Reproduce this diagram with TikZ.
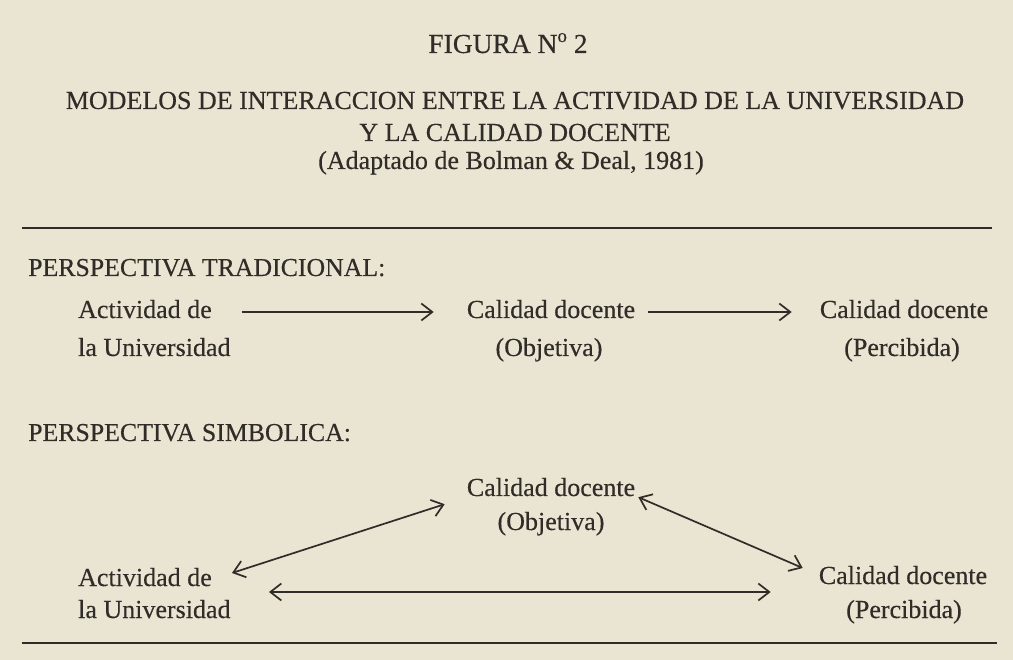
\documentclass[tikz,border=0pt]{standalone}
\usepackage{fontspec}
\setmainfont[FakeBold=0.35]{Liberation Serif}
\usetikzlibrary{arrows.meta,calc}
\definecolor{paper}{HTML}{EAE4D2}
\definecolor{ink}{HTML}{302C28}
\tikzset{
  lbl/.style={inner sep=0pt, text=ink, font=\fontsize{26}{30}\selectfont, text height=18pt, text depth=6pt},
  ttl/.style={lbl},
  hdg/.style={lbl, anchor=west, font=\fontsize{25.8}{30}\selectfont},
  tip/.tip={Straight Barb[length=11pt,width=17pt,line width=1.7pt]},
  conn/.style={draw=ink, line width=1.7pt, -tip},
  biconn/.style={draw=ink, line width=1.7pt, tip-tip},
  rulestyle/.style={draw=ink, line width=2.8pt}
}
\begin{document}
\begin{tikzpicture}[x=1pt,y=-1pt]
\fill[paper] (0,0) rectangle (1013,660);
\useasboundingbox (0,0) rectangle (1013,660);

% title block
\node[ttl, font=\fontsize{27.5}{30}\selectfont] (fig) at (508,47) {FIGURA N\raisebox{0.4em}{\fontsize{19}{19}\selectfont o} 2};
\node[ttl] (t1) at (515,103) {MODELOS DE INTERACCION ENTRE LA ACTIVIDAD DE LA UNIVERSIDAD};
\node[ttl] (t2) at (515,135) {Y LA CALIDAD DOCENTE};
\node[ttl] (t3) at (511,163) {(Adaptado de Bolman \& Deal, 1981)};

% rules
\coordinate (r1a) at (22,228);
\coordinate (r1b) at (992,228);
\draw[rulestyle] (r1a) -- (r1b);
\coordinate (r2a) at (22,643);
\coordinate (r2b) at (997,643);
\draw[rulestyle, line width=2.2pt] (r2a) -- (r2b);

% traditional perspective
\node[hdg] (h1) at (28,270) {PERSPECTIVA TRADICIONAL:};
\node[lbl, anchor=west] (act1) at (78,312) {Actividad de};
\node[lbl, anchor=west] (act1b) at (78,350) {la Universidad};
\node[lbl] (obj1) at (551,312) {Calidad docente};
\node[lbl] (obj1b) at (549,350) {(Objetiva)};
\node[lbl] (per1) at (904,312) {Calidad docente};
\node[lbl] (per1b) at (902,350) {(Percibida)};
\draw[conn] ($(act1.east)+(30,0)$) -- ($(obj1.west)+(-33,0)$);
\draw[conn] ($(obj1.east)+(13,0)$) -- ($(per1.west)+(-28,0)$);

% symbolic perspective
\node[hdg] (h2) at (28,435) {PERSPECTIVA SIMBOLICA:};
\node[lbl] (obj2) at (551,490) {Calidad docente};
\node[lbl] (obj2b) at (551,524) {(Objetiva)};
\node[lbl, anchor=west] (act2) at (78,580) {Actividad de};
\node[lbl, anchor=west] (act2b) at (78,612) {la Universidad};
\node[lbl] (per2) at (903,578) {Calidad docente};
\node[lbl] (per2b) at (904,612) {(Percibida)};
\draw[biconn] ($(obj2.south west)+(-22,2)$) -- ($(act2.east)+(20,-7)$);
\draw[biconn] ($(obj2.south east)+(3,-5)$) -- ($(per2.west)+(-16,-10)$);
\draw[biconn] ($(act2.east)+(57,12)$) -- ($(per2.west)+(-48,14)$);
\end{tikzpicture}
\end{document}
